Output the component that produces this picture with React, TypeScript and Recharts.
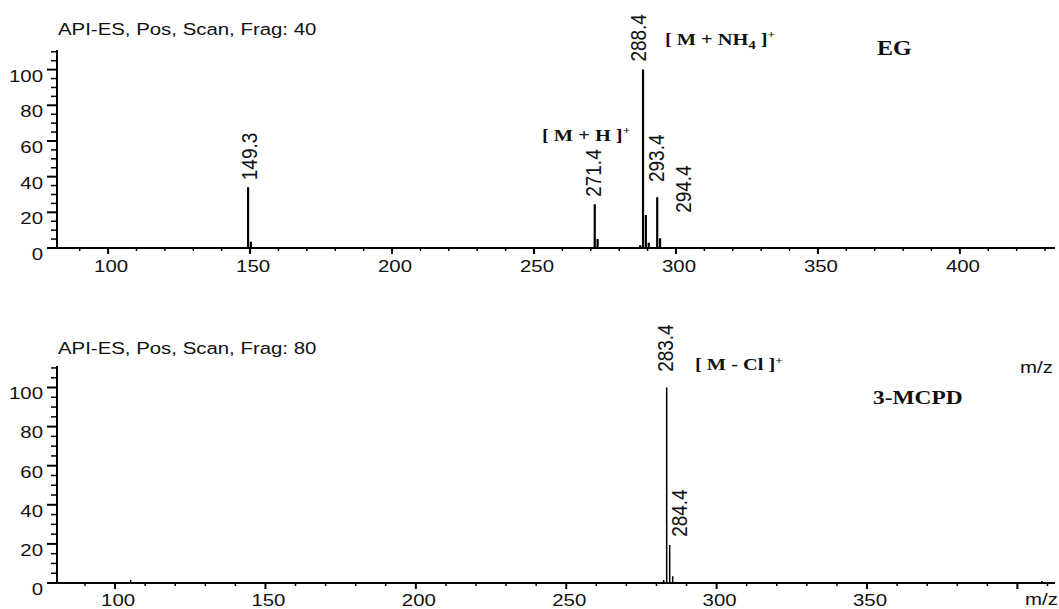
import React from 'react';
import { ComposedChart, Line, XAxis, YAxis, ReferenceDot } from 'recharts';

// EG spectrum (Frag 40)
const egMz = [149.3, 150.3, 271.4, 272.4, 287.4, 288.4, 289.4, 290.4, 293.4, 294.4];
const egInt = [34, 3.5, 24.5, 5, 1.5, 100, 18.5, 3, 28.5, 5.5];
const egLabels = ['149.3', '271.4', '288.4', '293.4', '294.4'];
const egLabelMz = [149.6, 270.8, 286.6, 293.0, 302.5];
const egLabelAt = [38, 28.7, 104.5, 37, 19.7];

// 3-MCPD spectrum (Frag 80)
const mcpdMz = [105.2, 282.4, 283.4, 284.4, 285.4, 408.1];
const mcpdInt = [1.5, 1.5, 100, 19.5, 3.5, 1];
const mcpdLabels = ['283.4', '284.4'];
const mcpdLabelMz = [282.8, 287.5];
const mcpdLabelAt = [108, 23.6];

const yTicks = [0, 5, 10, 15, 20, 25, 30, 35, 40, 45, 50, 55, 60, 65, 70, 75, 80, 85, 90, 95, 100, 105, 110];
const egXTicks = [90, 100, 110, 120, 130, 140, 150, 160, 170, 180, 190, 200, 210, 220, 230, 240, 250, 260, 270, 280, 290, 300, 310, 320, 330, 340, 350, 360, 370, 380, 390, 400, 410, 420, 430];
const mcpdXTicks = [90, 100, 110, 120, 130, 140, 150, 160, 170, 180, 190, 200, 210, 220, 230, 240, 250, 260, 270, 280, 290, 300, 310, 320, 330, 340, 350, 360, 370, 380, 390, 400, 410];

const sans = 'Liberation Sans, Arial, sans-serif';
const serif = 'Liberation Serif, Times New Roman, serif';

// stick spectrum: each peak goes up from the baseline and back down
function sticks(mz: number[], inten: number[]) {
  const out: { x: number; y: number }[] = [];
  mz.forEach((m, i) => {
    out.push({ x: m, y: 0 }, { x: m, y: inten[i] }, { x: m, y: 0 });
  });
  return out;
}

const egData = sticks(egMz, egInt);
const mcpdData = sticks(mcpdMz, mcpdInt);

function YTick(props: any) {
  const { x, y, payload } = props;
  const v = payload.value;
  const major = v % 20 === 0 && v <= 100;
  return (
    <g>
      <line x1={x - (major ? 10 : 6)} x2={x} y1={y} y2={y} stroke="#000" strokeWidth={major ? 2 : 1.5} />
      {major && (
        <g transform={`translate(${x - 14},${y + 6}) scale(1.2,1)`}>
          <text textAnchor="end" dominantBaseline="central" fontSize={17} fontFamily={sans} fill="#111">{v}</text>
        </g>
      )}
    </g>
  );
}

// x ticks: long tick + label every 50, short tick every 10; labels stop at maxLabel
const makeXTick = (maxLabel: number, dy: number) => (props: any) => {
  const { x, y, payload } = props;
  const v = payload.value;
  const major = v % 50 === 0;
  return (
    <g>
      <line x1={x} x2={x} y1={y} y2={y + (major ? 6 : 3)} stroke="#000" strokeWidth={major ? 2 : 1.5} />
      {major && v <= maxLabel && (
        <g transform={`translate(${x + 3},${y + dy}) scale(1.2,1)`}>
          <text textAnchor="middle" fontSize={17} fontFamily={sans} fill="#111">{v}</text>
        </g>
      )}
    </g>
  );
};

const rotLabel = (text: string) => (p: any) => (
  <g transform={`translate(${p.cx},${p.cy}) scale(1.2,1) rotate(-90)`}>
    <text x={0} y={0} dominantBaseline="central" fontSize={19} fontFamily={sans} fill="#111">{text}</text>
  </g>
);

const boldLabel = (node: React.ReactNode, size: number) => (p: any) => (
  <g transform={`translate(${p.cx},${p.cy}) scale(1.2,1)`}>
    <text x={0} y={0} fontSize={size} fontWeight="bold" fontFamily={serif} fill="#111">{node}</text>
  </g>
);

const axisStyle = { stroke: '#000', strokeWidth: 2 };

export default function App() {
  return (
    <div style={{ position: 'absolute', left: 0, top: 0, width: 1059, height: 609, background: '#fff' }}>
      <div style={{ position: 'absolute', left: 0, top: 0 }}>
        <ComposedChart width={1059} height={300} data={egData} margin={{ top: 50, right: 4, bottom: 0, left: 0 }}>
          <XAxis dataKey="x" type="number" domain={[82, 433.5]} allowDataOverflow ticks={egXTicks} interval={0}
            tickSize={0} tickMargin={0} tick={makeXTick(400, 24)} tickLine={false} axisLine={axisStyle} height={52} />
          <YAxis type="number" domain={[0, 111]} allowDataOverflow ticks={yTicks} interval={0} width={57}
            tickSize={0} tickMargin={0} tick={YTick} tickLine={false} axisLine={axisStyle} />
          <Line dataKey="y" type="linear" stroke="#000" strokeWidth={2.2} dot={false} isAnimationActive={false} />
          {egLabels.map((t, i) => (
            <ReferenceDot key={t} x={egLabelMz[i]} y={egLabelAt[i]} ifOverflow="visible" shape={rotLabel(t)} />
          ))}
          <ReferenceDot x={252.8} y={60} ifOverflow="visible"
            shape={boldLabel(<>[ M + H ]<tspan dy={-7} fontSize={11}>+</tspan></>, 17)} />
          <ReferenceDot x={296.1} y={114} ifOverflow="visible"
            shape={boldLabel(<>[ M + NH<tspan dy={4} fontSize={12}>4</tspan><tspan dy={-4}> ]</tspan><tspan dy={-7} fontSize={11}>+</tspan></>, 17)} />
          <ReferenceDot x={370.8} y={108.4} ifOverflow="visible" shape={boldLabel('EG', 20)} />
        </ComposedChart>
      </div>
      <div style={{ position: 'absolute', left: 0, top: 300 }}>
        <ComposedChart width={1059} height={309} data={mcpdData} margin={{ top: 66, right: 4, bottom: 0, left: 0 }}>
          <XAxis dataKey="x" type="number" domain={[80.7, 412.5]} allowDataOverflow ticks={mcpdXTicks} interval={0}
            tickSize={0} tickMargin={0} tick={makeXTick(350, 23)} tickLine={false} axisLine={axisStyle} height={26} />
          <YAxis type="number" domain={[0, 111]} allowDataOverflow ticks={yTicks} interval={0} width={57}
            tickSize={0} tickMargin={0} tick={YTick} tickLine={false} axisLine={axisStyle} />
          <Line dataKey="y" type="linear" stroke="#000" strokeWidth={1.5} dot={false} isAnimationActive={false} />
          {mcpdLabels.map((t, i) => (
            <ReferenceDot key={t} x={mcpdLabelMz[i]} y={mcpdLabelAt[i]} ifOverflow="visible" shape={rotLabel(t)} />
          ))}
          <ReferenceDot x={292.8} y={108.7} ifOverflow="visible"
            shape={boldLabel(<>[ M - Cl ]<tspan dy={-7} fontSize={11}>+</tspan></>, 17)} />
          <ReferenceDot x={352} y={91.8} ifOverflow="visible" shape={boldLabel('3-MCPD', 19.5)} />
        </ComposedChart>
      </div>
      <svg width={1059} height={609} style={{ position: 'absolute', left: 0, top: 0, pointerEvents: 'none' }}>
        <g transform="translate(58,35) scale(1.2,1)">
          <text fontSize={17} fontFamily={sans} fill="#111">API-ES, Pos, Scan, Frag: 40</text>
        </g>
        <g transform="translate(58,354) scale(1.2,1)">
          <text fontSize={17} fontFamily={sans} fill="#111">API-ES, Pos, Scan, Frag: 80</text>
        </g>
        <g transform="translate(1020,373) scale(1.2,1)">
          <text fontSize={17} fontFamily={sans} fill="#111">m/z</text>
        </g>
        <g transform="translate(1025,605) scale(1.2,1)">
          <text fontSize={17} fontFamily={sans} fill="#111">m/z</text>
        </g>
      </svg>
    </div>
  );
}
